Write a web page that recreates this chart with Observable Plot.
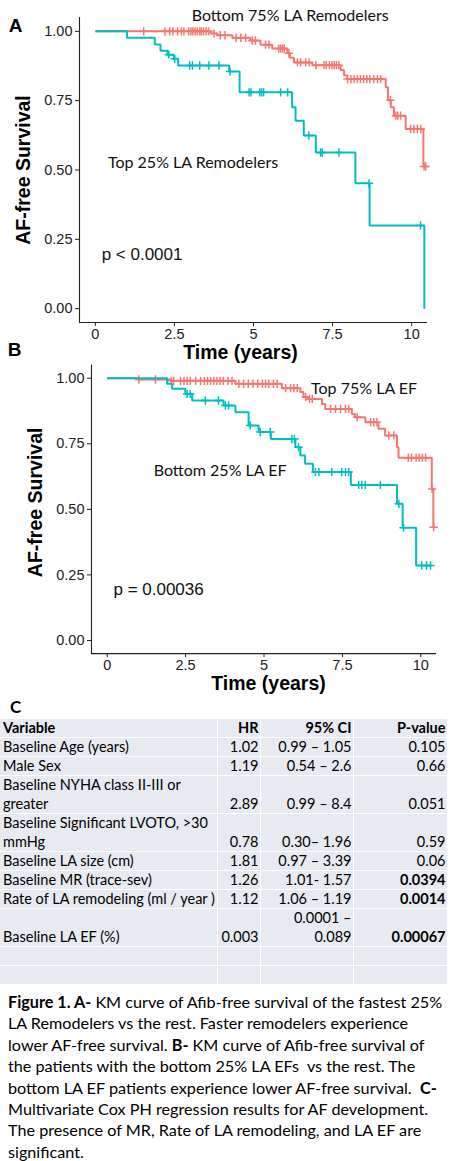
<!DOCTYPE html>
<html>
<head>
<meta charset="utf-8">
<script src="https://cdn.jsdelivr.net/npm/d3@7"></script>
<script src="https://cdn.jsdelivr.net/npm/@observablehq/plot@0.6"></script>
<style>
  html, body { margin: 0; padding: 0; background: #fff; }
  #page { position: relative; width: 450px; height: 1161px; overflow: hidden; background: #fff; }
  .panel { position: absolute; left: 0; }
  #panelA { top: 0; }
  #panelB { top: 340px; }
  #labelC { position: absolute; left: 10px; top: 696px; font: bold 17px Lato, sans-serif; line-height: 22px; color: #000; }
  .cell { position: absolute; background: #E8EAF2; font-family: Lato, sans-serif; font-size: 14.5px; line-height: 19px; color: #000;
          display: flex; flex-direction: column; justify-content: flex-end; white-space: pre; box-sizing: border-box; }
  .cell.left { padding-left: 3px; align-items: flex-start; text-align: left; }
  .cell.right { padding-right: 1.5px; align-items: flex-end; text-align: right; }
  .bold { font-weight: bold; }
  #caption { position: absolute; left: 8px; top: 991px; font-family: Lato, sans-serif; font-size: 16.2px; line-height: 21.4px; color: #000; white-space: pre; }
</style>
</head>
<body>
<div id="page">
  <div id="panelA" class="panel"></div>
  <div id="panelB" class="panel"></div>
  <div id="labelC">C</div>
  <div id="table"></div>
  <div id="caption"></div>
</div>
<script>
// ---------- shared axis data ----------
const xTicks = [0, 2.5, 5, 7.5, 10];
const yTicks = [0, 0.25, 0.5, 0.75, 1];
const xDomain = [-0.5, 10.5];
const yDomain = [-0.05, 1.05];
const survColors = ["#F8766D", "#00BFC4"];

// ---------- Panel A: LA remodelers ----------
const groupsA = ["Bottom 75% LA Remodelers", "Top 25% LA Remodelers"];
const pTextA = "p < 0.0001";
const bottomA_time = [0, 3.64, 3.85, 4.33, 4.9, 5.22, 5.59, 6.07, 6.15, 6.28, 6.86, 7.75, 7.86, 7.96, 9.18, 9.25, 9.34, 9.44, 9.81, 10.37];
const bottomA_surv = [1, 0.992, 0.986, 0.977, 0.967, 0.952, 0.938, 0.921, 0.905, 0.888, 0.878, 0.861, 0.842, 0.828, 0.798, 0.752, 0.726, 0.696, 0.648, 0.513];
const bottomA_censor = [1.53, 2.2, 2.35, 2.45, 2.6, 2.72, 2.8, 2.95, 3.02, 3.08, 3.15, 3.22, 3.3, 3.35, 3.42, 3.5, 3.58, 3.75, 3.95, 4.1, 4.45, 4.6, 4.75, 4.96, 5.06, 5.38, 5.49, 5.8, 5.86, 5.92, 5.97, 6.12, 6.39, 6.49, 6.65, 6.76, 6.97, 7.23, 7.3, 7.4, 7.48, 7.55, 7.62, 7.7, 7.97, 8.08, 8.18, 8.28, 8.38, 8.48, 8.58, 8.68, 8.8, 8.92, 9.02, 9.33, 9.5, 9.56, 9.65, 9.97, 10.07, 10.18, 10.29, 10.39, 10.44];
const topA_time = [0, 1.0, 1.88, 2.06, 2.28, 2.48, 2.62, 4.23, 4.56, 6.22, 6.33, 6.59, 6.97, 8.22, 8.67, 10.4];
const topA_surv = [1, 0.977, 0.953, 0.93, 0.916, 0.901, 0.877, 0.855, 0.78, 0.726, 0.678, 0.624, 0.563, 0.452, 0.30, 0];
const topA_censor = [2.32, 2.51, 2.98, 3.07, 3.3, 3.59, 3.91, 4.26, 4.86, 4.92, 5.2, 5.26, 5.32, 5.86, 6.08, 6.75, 7.12, 7.17, 7.7, 8.65, 10.28];

// ---------- Panel B: LA EF ----------
const groupsB = ["Top 75% LA EF", "Bottom 25% LA EF"];
const pTextB = "p = 0.00036";
const topB_time = [0, 1.0, 2.02, 4.09, 5.57, 6.16, 6.26, 6.42, 6.85, 6.95, 7.8, 7.9, 8.23, 8.65, 8.86, 9.24, 9.29, 10.35, 10.4];
const topB_surv = [1, 0.995, 0.99, 0.979, 0.962, 0.947, 0.928, 0.921, 0.902, 0.883, 0.864, 0.851, 0.832, 0.807, 0.782, 0.737, 0.697, 0.578, 0.432];
const topB_censor = [1.01, 1.54, 2.04, 2.12, 2.34, 2.45, 2.55, 2.65, 2.82, 2.98, 3.1, 3.2, 3.3, 3.4, 3.5, 3.6, 3.7, 3.85, 3.98, 4.2, 4.35, 4.5, 4.65, 4.8, 4.95, 5.05, 5.15, 5.3, 5.42, 5.69, 5.85, 5.95, 6.06, 6.33, 6.45, 6.54, 7.12, 7.28, 7.44, 7.6, 7.7, 7.97, 8.4, 8.5, 8.6, 8.98, 9.14, 9.6, 9.7, 9.85, 9.95, 10.05, 10.15, 10.36, 10.41];
const bottomB_time = [0, 1.91, 2.07, 2.49, 2.71, 3.71, 4.09, 4.51, 4.83, 5.22, 6.0, 6.16, 6.31, 6.56, 7.77, 9.24, 9.42, 9.85];
const bottomB_surv = [1, 0.979, 0.96, 0.94, 0.915, 0.896, 0.87, 0.82, 0.795, 0.768, 0.737, 0.705, 0.674, 0.642, 0.593, 0.521, 0.43, 0.286];
const bottomB_censor = [2.55, 2.65, 3.13, 3.55, 3.77, 3.87, 4.56, 4.88, 5.2, 5.89, 5.97, 6.1, 6.64, 6.75, 7.16, 7.48, 7.6, 7.7, 8.02, 8.12, 8.23, 8.71, 9.3, 9.45, 10.03, 10.18, 10.31];

// ---------- Panel C: Cox model table ----------
const tableHeader = ["Variable", "HR", "95% CI", "P-value"];
const variables = ["Baseline Age (years)", "Male Sex", "Baseline NYHA class II-III or\ngreater", "Baseline Significant LVOTO, >30\nmmHg", "Baseline LA size (cm)", "Baseline MR (trace-sev)", "Rate of LA remodeling (ml / year )", "Baseline LA EF (%)"];
const hazardRatios = ["1.02", "1.19", "2.89", "0.78", "1.81", "1.26", "1.12", "0.003"];
const confIntervals = ["0.99 \u2013 1.05", "0.54 \u2013 2.6", "0.99 \u2013 8.4", "0.30\u2013 1.96", "0.97 \u2013 3.39", "1.01- 1.57", "1.06 \u2013 1.19", "0.0001 \u2013\n0.089"];
const pValues = ["0.105", "0.66", "0.051", "0.59", "0.06", "0.0394", "0.0014", "0.00067"];
const emptyRows = 2;

// ---------- Caption ----------
const captionLines = [
  [["Figure 1. A-", true], [" KM curve of Afib-free survival of the fastest 25%", false]],
  [["LA Remodelers vs the rest. Faster remodelers experience", false]],
  [["lower AF-free survival. ", false], ["B-", true], [" KM curve of Afib-free survival of", false]],
  [["the patients with the bottom 25% LA EFs  vs the rest. The", false]],
  [["bottom LA EF patients experience lower AF-free survival.  ", false], ["C-", true]],
  [["Multivariate Cox PH regression results for AF development.", false]],
  [["The presence of MR, Rate of LA remodeling, and LA EF are", false]],
  [["significant.", false]]
];

// ---------- helpers ----------
function kmSeries(group, times, surv, censors) {
  const lastT = times[times.length - 1];
  const end = Math.max(lastT, d3.max(censors));
  const pts = times.map((t, i) => ({group, t, s: surv[i]}));
  if (end > lastT) pts.push({group, t: end, s: surv[surv.length - 1]});
  const marks = censors.map(t => ({group, t, s: surv[d3.bisectRight(times, t) - 1]}));
  return {pts, marks};
}

const sansFont = "'Liberation Sans', Arial, Helvetica, sans-serif";
const annFont = "Lato, 'Open Sans', sans-serif";

function kmPanel(cfg) {
  const [s1, s2] = cfg.series;
  return Plot.plot({
    width: 450,
    height: cfg.height,
    marginLeft: cfg.ml, marginRight: cfg.mr, marginTop: cfg.mt, marginBottom: cfg.mb,
    style: {background: "transparent", overflow: "visible", fontFamily: sansFont, fontSize: "14.5px", color: "#222"},
    x: {domain: xDomain},
    y: {domain: yDomain},
    color: {domain: cfg.groups, range: survColors},
    marks: [
      Plot.axisX({ticks: xTicks, tickFormat: d => String(d), tickSize: 4, tickPadding: 2, label: null}),
      Plot.axisY({ticks: yTicks, tickFormat: d3.format(".2f"), tickSize: 4, tickPadding: 3, label: null}),
      Plot.ruleX([xDomain[0]], {y1: yDomain[0], y2: yDomain[1], stroke: "#222", strokeWidth: 1.1}),
      Plot.ruleY([yDomain[0]], {x1: xDomain[0], x2: xDomain[1], stroke: "#222", strokeWidth: 1.1}),
      Plot.line(s1.pts, {x: "t", y: "s", stroke: "group", curve: "step-after", strokeWidth: 2, strokeLinejoin: "miter", strokeLinecap: "butt"}),
      Plot.dot(s1.marks, {x: "t", y: "s", stroke: "group", symbol: "plus", r: 2.8, strokeWidth: 1.5}),
      Plot.line(s2.pts, {x: "t", y: "s", stroke: "group", curve: "step-after", strokeWidth: 2, strokeLinejoin: "miter", strokeLinecap: "butt"}),
      Plot.dot(s2.marks, {x: "t", y: "s", stroke: "group", symbol: "plus", r: 2.8, strokeWidth: 1.5}),
      // group labels
      Plot.text([cfg.groups[0]], {x: cfg.ann[0][0], y: cfg.ann[0][1], text: d => d, fontFamily: annFont, fontSize: 16, fill: "#111"}),
      Plot.text([cfg.groups[1]], {x: cfg.ann[1][0], y: cfg.ann[1][1], text: d => d, fontFamily: annFont, fontSize: 16, fill: "#111"}),
      // p-value
      Plot.text([cfg.pText], {x: 0.2, y: cfg.pY, text: d => d, textAnchor: "start", fontFamily: sansFont, fontSize: 17, fill: "#111"}),
      // axis titles
      Plot.text(["Time (years)"], {frameAnchor: "bottom", dx: cfg.xtDx, dy: cfg.xtDy, textAnchor: "middle", lineAnchor: "middle", text: d => d, fontWeight: "bold", fontSize: 19.5, fill: "#000"}),
      Plot.text(["AF-free Survival"], {frameAnchor: "left", dx: -56, dy: cfg.ytDy, rotate: -90, textAnchor: "middle", lineAnchor: "middle", text: d => d, fontWeight: "bold", fontSize: 19.5, fill: "#000"}),
      // panel letter
      Plot.text([cfg.letter], {frameAnchor: "top-left", dx: cfg.letterDx, dy: cfg.letterDy, textAnchor: "middle", lineAnchor: "middle", text: d => d, fontWeight: "bold", fontSize: 19, fill: "#000"})
    ]
  });
}

// ---------- Panel A ----------
const serA1 = kmSeries(groupsA[0], bottomA_time, bottomA_surv, bottomA_censor);
const serA2 = kmSeries(groupsA[1], topA_time, topA_surv, topA_censor);
document.getElementById("panelA").appendChild(kmPanel({
  height: 360, ml: 79, mr: 23, mt: 17, mb: 38,
  groups: groupsA, series: [serA1, serA2],
  ann: [[6.16, 1.055], [3.09, 0.525]], pText: pTextA, pY: 0.196,
  xtDx: -13, xtDy: 30, ytDy: 0, letter: "A", letterDx: -64, letterDy: 8
}));

// ---------- Panel B ----------
const serB1 = kmSeries(groupsB[0], topB_time, topB_surv, topB_censor);
const serB2 = kmSeries(groupsB[1], bottomB_time, bottomB_surv, bottomB_censor);
document.getElementById("panelB").appendChild(kmPanel({
  height: 355, ml: 91, mr: 14, mt: 24.6, mb: 41.9,
  groups: groupsB, series: [serB1, serB2],
  ann: [[8.19, 0.961], [3.6, 0.648]], pText: pTextB, pY: 0.194,
  xtDx: 4.5, xtDy: 30.5, ytDy: -7, letter: "B", letterDx: -77, letterDy: -15.6
}));

// ---------- Table ----------
(function buildTable() {
  const container = document.getElementById("table");
  const top0 = 719, lineH = 19;
  const colLeft = [0, 218, 261, 354];
  const colWidth = [217, 42, 92, 93];
  const rows = [{cells: tableHeader, bold: [true, true, true, true]}];
  variables.forEach((v, i) => {
    const sig = parseFloat(pValues[i]) < 0.05;
    rows.push({cells: [v, hazardRatios[i], confIntervals[i], pValues[i]], bold: [false, false, false, sig]});
  });
  for (let k = 0; k < emptyRows; k++) rows.push({cells: ["", "", "", ""], bold: [false, false, false, false]});
  let line = 0;
  rows.forEach(r => {
    const n = d3.max(r.cells, c => c.split("\n").length);
    r.cells.forEach((c, j) => {
      const div = document.createElement("div");
      div.className = "cell " + (j === 0 ? "left" : "right") + (r.bold[j] ? " bold" : "");
      div.style.left = colLeft[j] + "px";
      div.style.width = colWidth[j] + "px";
      div.style.top = (top0 + line * lineH) + "px";
      div.style.height = (n * lineH - 1) + "px";
      c.split("\n").forEach(t => {
        const s = document.createElement("span");
        s.textContent = t;
        div.appendChild(s);
      });
      container.appendChild(div);
    });
    line += n;
  });
})();

// ---------- Caption ----------
(function buildCaption() {
  const cap = document.getElementById("caption");
  captionLines.forEach(parts => {
    const lineDiv = document.createElement("div");
    parts.forEach(([t, b]) => {
      const s = document.createElement("span");
      s.textContent = t;
      if (b) s.style.fontWeight = "bold";
      lineDiv.appendChild(s);
    });
    cap.appendChild(lineDiv);
  });
})();
</script>
</body>
</html>
